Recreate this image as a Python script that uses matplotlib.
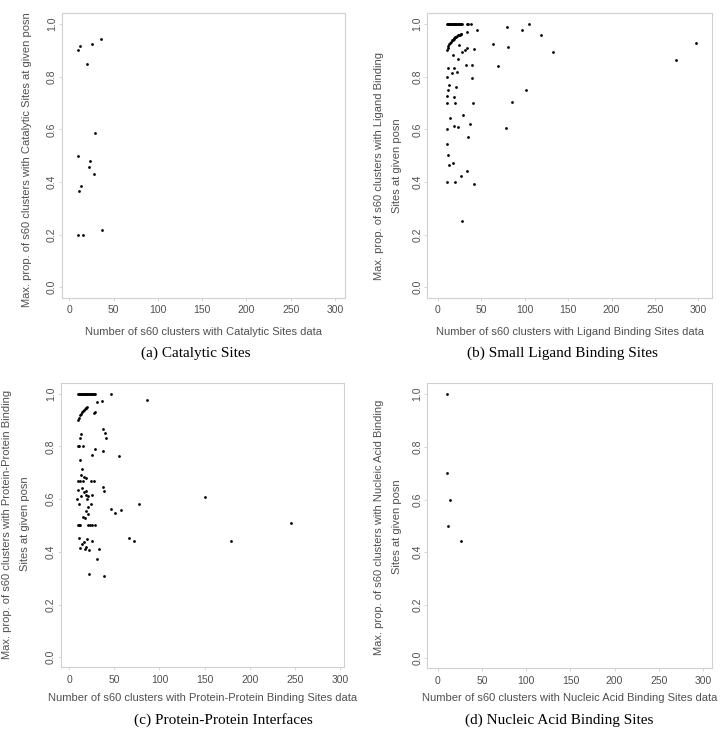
import matplotlib
matplotlib.use("Agg")
import matplotlib.pyplot as plt
from matplotlib import font_manager

# ---------------- data ----------------
# (a) Catalytic Sites
cat_x = [10, 12, 26, 36, 20, 29, 10, 23, 22, 28, 13, 11, 10, 15, 37]
cat_y = [0.900, 0.917, 0.923, 0.944, 0.850, 0.586, 0.500, 0.478, 0.455, 0.429,
         0.385, 0.364, 0.200, 0.200, 0.216]

# (b) Small Ligand Binding Sites
lig_x = [10, 11, 12, 13, 14, 15, 16, 17, 18, 19, 20, 21, 22, 23, 24, 25, 26, 27, 28,
         33, 35, 38, 105,
         10, 11, 12, 13, 14, 15, 16, 17, 18, 19, 20, 21, 22, 23, 24, 25, 26, 27,
         33, 45, 80, 97, 119, 132, 274, 297, 63, 81, 69, 101, 85, 78,
         24, 28, 31, 33, 42, 17, 23, 32, 39, 12, 18, 16, 22, 10, 39,
         13, 21, 12, 10, 18, 10, 20, 40, 14, 29, 18, 23, 37, 10, 35,
         10, 12, 13, 17, 26, 34, 10, 20, 41, 28]
lig_y = [1.0] * 23 + [
         0.900, 0.909, 0.917, 0.923, 0.929, 0.933, 0.938, 0.941, 0.944, 0.947,
         0.950, 0.952, 0.955, 0.957, 0.958, 0.960, 0.962, 0.963,
         0.970, 0.978, 0.988, 0.979, 0.958, 0.893, 0.863, 0.929, 0.924, 0.913,
         0.841, 0.751, 0.702, 0.606,
         0.919, 0.895, 0.903, 0.909, 0.904, 0.884, 0.869, 0.845, 0.846, 0.833,
         0.833, 0.814, 0.818, 0.800, 0.795,
         0.770, 0.762, 0.751, 0.727, 0.723, 0.700, 0.700, 0.700, 0.643, 0.654,
         0.612, 0.609, 0.622, 0.600, 0.571,
         0.546, 0.501, 0.463, 0.472, 0.424, 0.441, 0.400, 0.400, 0.392, 0.252]

# (c) Protein-Protein Interfaces
ppi_x = [10, 11, 12, 13, 14, 15, 16, 17, 18, 19, 20, 21, 22, 23, 24, 25, 26, 27, 28, 46,
         10, 11, 12, 13, 14, 15, 16, 17, 18, 19, 20,
         31, 36, 86, 27, 28,
         37, 40, 41, 13, 12, 10, 11, 15, 29, 25, 37, 55,
         12, 14, 13, 16, 19, 10, 12, 15, 24, 27,
         37, 38, 10, 14, 13, 16, 19, 20, 19, 21, 25, 9, 11, 24, 21, 18, 21, 15, 17,
         46, 51, 57, 77, 150, 246,
         10, 11, 12, 21, 23, 25, 28,
         11, 25, 20, 12, 14, 16, 17, 19, 22, 33, 31, 66, 72, 179, 22, 39]
ppi_y = [1.0] * 20 + [
         0.900, 0.909, 0.917, 0.923, 0.929, 0.933, 0.938, 0.941, 0.944, 0.947, 0.950,
         0.968, 0.972, 0.975, 0.926, 0.929,
         0.865, 0.849, 0.832, 0.846, 0.831, 0.800, 0.800, 0.800, 0.791, 0.768, 0.782, 0.762,
         0.747, 0.713, 0.690, 0.685, 0.681, 0.667, 0.667, 0.667, 0.667, 0.667,
         0.647, 0.631, 0.636, 0.641, 0.613, 0.625, 0.617, 0.599, 0.630, 0.611, 0.614,
         0.600, 0.582, 0.582, 0.570, 0.554, 0.544, 0.532, 0.528,
         0.564, 0.547, 0.560, 0.583, 0.606, 0.511,
         0.5, 0.5, 0.5, 0.5, 0.5, 0.5, 0.5,
         0.454, 0.440, 0.449, 0.415, 0.431, 0.437, 0.411, 0.417, 0.408, 0.411, 0.374,
         0.453, 0.442, 0.440, 0.317, 0.307]

# (d) Nucleic Acid Binding Sites
nuc_x = [10, 10, 14, 11, 26]
nuc_y = [1.0, 0.700, 0.600, 0.500, 0.444]

x_ticks = [0, 50, 100, 150, 200, 250, 300]
y_ticks = [0.0, 0.2, 0.4, 0.6, 0.8, 1.0]

x_labels = ["Number of s60 clusters with Catalytic Sites data",
            "Number of s60 clusters with Ligand Binding Sites data",
            "Number of s60 clusters with Protein-Protein Binding Sites data",
            "Number of s60 clusters with Nucleic Acid Binding Sites data"]
y_labels = ["Max. prop. of s60 clusters with Catalytic Sites at given posn",
            "Max. prop. of s60 clusters with Ligand Binding\nSites at given posn",
            "Max. prop. of s60 clusters with Protein-Protein Binding\nSites at given posn",
            "Max. prop. of s60 clusters with Nucleic Acid Binding\nSites at given posn"]
captions = ["(a) Catalytic Sites", "(b) Small Ligand Binding Sites",
            "(c) Protein-Protein Interfaces", "(d) Nucleic Acid Binding Sites"]

# ---------------- style ----------------
avail = {f.name for f in font_manager.fontManager.ttflist}
sans = "Liberation Sans" if "Liberation Sans" in avail else "DejaVu Sans"
serif = "Liberation Serif" if "Liberation Serif" in avail else "DejaVu Serif"

W, H = 728, 741
fig = plt.figure(figsize=(W / 100, H / 100), dpi=100)

TXT = "#505050"
FRAME = "#d0d0d0"

# axes boxes in pixels: left, right, top, bottom
boxes = [(61.7, 345.0, 13.3, 297.7),
         (427.3, 712.3, 13.3, 297.7),
         (60.7, 344.0, 383.3, 667.3),
         (427.3, 712.3, 382.7, 668.3)]
xlims = [(-8.6, 311.3), (-12.3, 316.0), (-9.5, 304.5), (-12.1, 310.6)]
ylims = [(-0.040, 1.041), (-0.040, 1.041), (-0.038, 1.039), (-0.040, 1.043)]

series = [(cat_x, cat_y), (lig_x, lig_y), (ppi_x, ppi_y), (nuc_x, nuc_y)]

# label positions in pixels
xlab_y = [332, 332, 698, 698]
ylab_pos = [(27, 160), (388, 166), (16, 524), (388, 527)]
cap_pos = [(196, 353), (562, 353), (223, 720), (559, 720)]

for i in range(4):
    l, r, t, b = boxes[i]
    ax = fig.add_axes([l / W, (H - b) / H, (r - l) / W, (b - t) / H])
    xs, ys = series[i]
    ax.plot(xs, ys, "o", ms=2.0, color="black", mec="none")
    ax.set_xlim(*xlims[i])
    ax.set_ylim(*ylims[i])
    ax.set_xticks(x_ticks)
    ax.set_yticks(y_ticks)
    ax.set_xticklabels([str(v) for v in x_ticks])
    ax.set_yticklabels(["%.1f" % v for v in y_ticks])
    for s in ax.spines.values():
        s.set_color(FRAME)
        s.set_linewidth(0.8)
    ax.tick_params(axis="both", direction="out", length=2.5, width=0.6,
                   color=FRAME, labelcolor=TXT, labelsize=7.5, pad=3)
    ax.tick_params(axis="y", labelrotation=90, pad=1.0)
    for lab in ax.get_yticklabels():
        lab.set_va("center")
        lab.set_fontfamily(sans)
    for lab in ax.get_xticklabels():
        lab.set_fontfamily(sans)

    fig.text(((l + r) / 2) / W, (H - xlab_y[i]) / H, x_labels[i],
             ha="center", va="center", fontsize=8, color=TXT, family=sans)
    px, py = ylab_pos[i]
    fig.text(px / W, (H - py) / H, y_labels[i], ha="center", va="center",
             rotation=90, fontsize=8, color=TXT, family=sans,
             multialignment="center", linespacing=1.95)
    cx, cy = cap_pos[i]
    fig.text(cx / W, (H - cy) / H, captions[i], ha="center", va="center",
             fontsize=11, color="black", family=serif)

fig.savefig("out.png", dpi=100)
